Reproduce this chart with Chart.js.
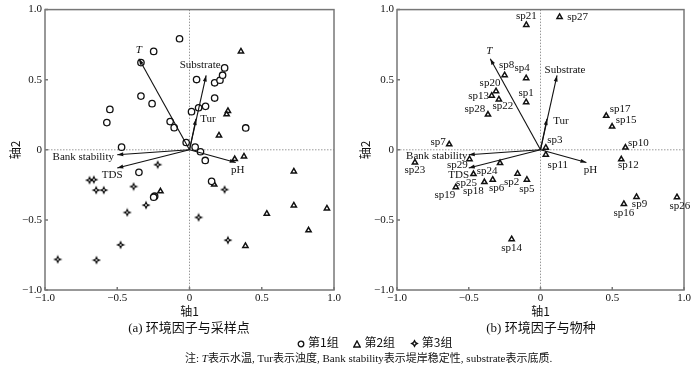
<!DOCTYPE html>
<html>
<head>
<meta charset="utf-8">
<script src="https://cdn.jsdelivr.net/npm/chart.js@4"></script>
<style>
  html, body { margin: 0; padding: 0; background: #fff; }
  #wrap { position: relative; width: 700px; height: 367px; overflow: hidden; color: #111;
          font-family: "Liberation Serif", "Noto Sans CJK SC", serif; }
  .panel { position: absolute; top: 0; width: 350px; height: 320px; }
  .txt { position: absolute; white-space: nowrap; line-height: 1; }
  .cap { font-size: 13px; width: 288px; text-align: center; top: 320px; }
  .cap .zh { font-family: "Noto Sans CJK SC", sans-serif; }
  #legend { top: 336px; left: 297px; font-size: 12px; font-family: "Noto Sans CJK SC", sans-serif; }
  #legend span { margin-right: 12px; }
  #legend svg { vertical-align: -1px; margin-right: 3px; }
  #note { top: 352px; left: 185px; font-size: 11px; }
  #note .zh { font-family: "Noto Sans CJK SC", sans-serif; }
</style>
</head>
<body>
<div id="wrap">
  <div class="panel" style="left:0"><canvas id="chartA" width="350" height="320"></canvas></div>
  <div class="panel" style="left:350px"><canvas id="chartB" width="350" height="320"></canvas></div>
  <div class="txt cap" style="left:45px">(a) <span class="zh">环境因子与采样点</span></div>
  <div class="txt cap" style="left:397px">(b) <span class="zh">环境因子与物种</span></div>
  <div class="txt" id="legend">
    <span><svg width="8" height="8"><circle cx="4" cy="4" r="2.8" fill="#fff" stroke="#111" stroke-width="1.3"/></svg>第1组</span>
    <span><svg width="8" height="8"><path d="M4 1 L7.2 7 L0.8 7 Z" fill="#fff" stroke="#111" stroke-width="1.4"/></svg>第2组</span>
    <span><svg width="9" height="9"><path d="M4.5 0.2 L6 3 L8.8 4.5 L6 6 L4.5 8.8 L3 6 L0.2 4.5 L3 3 Z" fill="#111"/><circle cx="4.5" cy="4.5" r="0.9" fill="#fff"/></svg>第3组</span>
  </div>
  <div class="txt" id="note"><span class="zh">注</span>: <i>T</i><span class="zh">表示水温</span>, Tur<span class="zh">表示浊度</span>, Bank stability<span class="zh">表示堤岸稳定性</span>, substrate<span class="zh">表示底质</span>.</div>
</div>
<script>
// ── Data ──────────────────────────────────────────────────────
const axisTicks = [-1, -0.5, 0, 0.5, 1];

// environmental factors (arrow tips)
const envNames = ['T', 'Substrate', 'Tur', 'Bank stability', 'TDS', 'pH'];
const envX = [-0.35, 0.115, 0.045, -0.50, -0.50, 0.32];
const envY = [0.65, 0.53, 0.22, -0.035, -0.13, -0.09];

// (a) sampling sites
const g1X = [-0.069, -0.248, -0.336, -0.336, -0.259, -0.551, -0.572, -0.134, -0.106, -0.023, -0.470, 0.039, 0.076, 0.109,
             -0.350, 0.153, -0.241, -0.248, 0.014, 0.063, 0.111, 0.049, 0.174, 0.211, 0.229, 0.243, 0.174, 0.389];
const g1Y = [0.792, 0.702, 0.622, 0.383, 0.329, 0.288, 0.194, 0.201, 0.158, 0.052, 0.019, 0.019, -0.014, -0.076,
             -0.161, -0.225, -0.331, -0.338, 0.272, 0.300, 0.310, 0.501, 0.478, 0.496, 0.532, 0.584, 0.369, 0.156];
const g2X = [0.356, 0.266, 0.257, 0.204, 0.313, 0.377, 0.722, 0.171, -0.201, 0.722, 0.535, 0.951, 0.824, 0.387];
const g2Y = [0.702, 0.277, 0.253, 0.102, -0.066, -0.047, -0.154, -0.248, -0.296, -0.397, -0.456, -0.418, -0.574, -0.686];
const g3X = [-0.220, -0.692, -0.662, -0.646, -0.593, -0.387, -0.301, -0.431, -0.477, -0.912, -0.644, 0.243, 0.063, 0.266];
const g3Y = [-0.106, -0.217, -0.213, -0.288, -0.288, -0.262, -0.395, -0.447, -0.678, -0.782, -0.787, -0.284, -0.482, -0.645];

// (b) species
const spNames = ['sp1', 'sp2', 'sp3', 'sp4', 'sp5', 'sp6', 'sp7', 'sp8', 'sp9', 'sp10', 'sp11', 'sp12', 'sp13', 'sp14', 'sp15',
                 'sp16', 'sp17', 'sp18', 'sp19', 'sp20', 'sp21', 'sp22', 'sp23', 'sp24', 'sp25', 'sp26', 'sp27', 'sp28', 'sp29'];
const spX = [-0.100, -0.160, 0.037, -0.100, -0.095, -0.333, -0.636, -0.250, 0.669, 0.592, 0.037, 0.563, -0.340, -0.201, 0.499,
             0.581, 0.458, -0.391, -0.590, -0.310, -0.099, -0.290, -0.875, -0.282, -0.467, 0.951, 0.133, -0.366, -0.495];
const spY = [0.340, -0.170, 0.015, 0.511, -0.213, -0.213, 0.039, 0.532, -0.336, 0.016, -0.035, -0.068, 0.386, -0.638, 0.166,
             -0.386, 0.242, -0.230, -0.267, 0.418, 0.891, 0.359, -0.090, -0.095, -0.173, -0.338, 0.948, 0.251, -0.067];

// ── Label placement (pixel shift of label centre from its mark) ──
const envShiftA = [[0, -9], [-6, -10], [12, 0], [-34, 2], [-5, 7], [2, 8]];
const envShiftB = [[-1, -8], [8, -5], [14, 2], [-32, 1], [-10, 7], [4, 8]];
const spShift = [[0, -9], [-6, 8], [9, -8], [-4, -10], [0, 9], [4, 8], [-11, -2], [2, -10], [3, 7], [13, -4],
                 [12, 10], [7, 6], [-13, 0], [0, 9], [14, -6], [0, 9], [14, -7], [-11, 9], [-11, 8], [-6, -8],
                 [0, -9], [4, 7], [0, 8], [-13, 8], [-7, 9], [3, 9], [18, 0], [-13, -6], [-12, 6]];

// ── Helpers ───────────────────────────────────────────────────
const serif = 'Liberation Serif';
const cjk = 'Noto Sans CJK SC';
const ink = '#111';
const pts = (xs, ys) => xs.map((v, i) => ({ x: v, y: ys[i] }));
const fmt = v => v === 0 ? '0' : (v < 0 ? '\u2212' : '') + Math.abs(v).toFixed(1);

function starIcon() {
  const c = document.createElement('canvas');
  c.width = 10; c.height = 10;
  const g = c.getContext('2d');
  g.translate(5, 5);
  g.beginPath();
  for (let i = 0; i < 8; i++) {
    const r = i % 2 ? 1.9 : 4.6;
    const a = i * Math.PI / 4 - Math.PI / 2;
    g.lineTo(r * Math.cos(a), r * Math.sin(a));
  }
  g.closePath();
  g.fillStyle = '#000'; g.fill();
  g.beginPath(); g.arc(0, 0, 0.9, 0, Math.PI * 2);
  g.fillStyle = '#fff'; g.fill();
  return c;
}

// zero lines, frame, inner ticks, arrows and text labels
const biplot = {
  id: 'biplot',
  beforeDatasetsDraw(chart) {
    const { ctx, chartArea: a, scales: { x, y } } = chart;
    const x0 = x.getPixelForValue(0), y0 = y.getPixelForValue(0);
    ctx.save();
    ctx.strokeStyle = '#999'; ctx.lineWidth = 1; ctx.setLineDash([1.5, 1.5]);
    ctx.beginPath();
    ctx.moveTo(x0, a.top); ctx.lineTo(x0, a.bottom);
    ctx.moveTo(a.left, y0); ctx.lineTo(a.right, y0);
    ctx.stroke();
    ctx.setLineDash([]);
    ctx.strokeStyle = '#777'; ctx.lineWidth = 1.5;
    ctx.strokeRect(a.left, a.top, a.right - a.left, a.bottom - a.top);
    ctx.beginPath();
    axisTicks.forEach(t => {
      const px = x.getPixelForValue(t), py = y.getPixelForValue(t);
      ctx.moveTo(px, a.bottom); ctx.lineTo(px, a.bottom - 3);
      ctx.moveTo(a.left, py); ctx.lineTo(a.left + 3, py);
    });
    ctx.stroke();
    ctx.restore();
  },
  afterDatasetsDraw(chart, args, opts) {
    const { ctx, scales: { x, y } } = chart;
    const ox = x.getPixelForValue(0), oy = y.getPixelForValue(0);
    ctx.save();
    ctx.strokeStyle = ink; ctx.fillStyle = ink; ctx.lineWidth = 1.1;
    ctx.textAlign = 'center'; ctx.textBaseline = 'middle';
    envNames.forEach((name, i) => {
      const tx = x.getPixelForValue(envX[i]), ty = y.getPixelForValue(envY[i]);
      const ang = Math.atan2(ty - oy, tx - ox);
      ctx.beginPath(); ctx.moveTo(ox, oy); ctx.lineTo(tx, ty); ctx.stroke();
      ctx.beginPath();
      ctx.moveTo(tx, ty);
      ctx.lineTo(tx - 6 * Math.cos(ang) + 2 * Math.sin(ang), ty - 6 * Math.sin(ang) - 2 * Math.cos(ang));
      ctx.lineTo(tx - 6 * Math.cos(ang) - 2 * Math.sin(ang), ty - 6 * Math.sin(ang) + 2 * Math.cos(ang));
      ctx.closePath(); ctx.fill();
      const s = opts.envShift[i];
      ctx.font = (name === 'T' ? 'italic ' : '') + '11px "' + serif + '"';
      ctx.fillText(name, tx + s[0], ty + s[1]);
    });
    if (opts.names) {
      ctx.font = '11px "' + serif + '"';
      chart.getDatasetMeta(0).data.forEach((el, i) => {
        const s = opts.shift[i];
        ctx.fillText(opts.names[i], el.x + s[0], el.y + s[1]);
      });
    }
    ctx.restore();
  }
};

function axes(yWidth) {
  const tickFont = { family: serif, size: 11 };
  return {
    x: {
      type: 'linear', min: -1, max: 1,
      afterFit: s => { s.height = 30; },
      ticks: { stepSize: 0.5, callback: fmt, font: tickFont, color: ink, padding: 2, maxRotation: 0, autoSkip: false },
      grid: { display: false, drawTicks: false }, border: { display: false },
      title: { display: true, text: '轴1', font: { family: cjk, size: 12 }, color: ink, padding: { top: 0, bottom: 1 } }
    },
    y: {
      type: 'linear', min: -1, max: 1,
      afterFit: s => { s.width = yWidth; },
      ticks: { stepSize: 0.5, callback: fmt, font: tickFont, color: ink, padding: 3, autoSkip: false },
      grid: { display: false, drawTicks: false }, border: { display: false },
      title: { display: true, text: '轴2', font: { family: cjk, size: 12 }, color: ink, padding: { top: 8, bottom: 0 } }
    }
  };
}

function baseOptions(yWidth, pluginOpts) {
  return {
    responsive: false, animation: false,
    layout: { padding: { left: 0, right: 16, top: 7, bottom: 0 } },
    plugins: { legend: { display: false }, tooltip: { enabled: false }, biplot: pluginOpts },
    scales: axes(yWidth)
  };
}

// ── (a) sites ─────────────────────────────────────────────────
new Chart(document.getElementById('chartA'), {
  type: 'scatter',
  data: {
    datasets: [
      { label: '第1组', data: pts(g1X, g1Y), pointStyle: 'circle', pointRadius: 3.2,
        borderColor: ink, backgroundColor: '#fff', borderWidth: 1.3 },
      { label: '第2组', data: pts(g2X, g2Y), pointStyle: 'triangle', pointRadius: 3,
        borderColor: ink, backgroundColor: '#fff', borderWidth: 1.5 },
      { label: '第3组', data: pts(g3X, g3Y), pointStyle: starIcon(), pointRadius: 4 }
    ]
  },
  options: baseOptions(45, { envShift: envShiftA }),
  plugins: [biplot]
});

// ── (b) species ───────────────────────────────────────────────
new Chart(document.getElementById('chartB'), {
  type: 'scatter',
  data: {
    datasets: [
      { label: 'species', data: pts(spX, spY), pointStyle: 'triangle', pointRadius: 3,
        borderColor: ink, backgroundColor: '#fff', borderWidth: 1.5 }
    ]
  },
  options: baseOptions(47, { envShift: envShiftB, names: spNames, shift: spShift }),
  plugins: [biplot]
});
</script>
</body>
</html>
